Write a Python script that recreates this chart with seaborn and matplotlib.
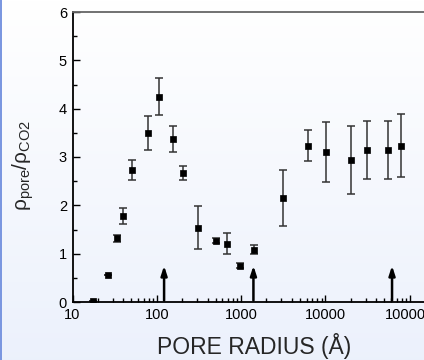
import numpy as np
import pandas as pd
import matplotlib
matplotlib.use("Agg")
import matplotlib.pyplot as plt
from matplotlib.patches import Rectangle
import seaborn as sns

# data
pore_radius = [17.5, 26.4, 34, 39.4, 50.8, 78.7, 106, 155.7, 203, 310, 500, 680,
               962, 1410, 3140, 6270, 10170, 19950, 30900, 55300, 78900]
density_ratio = [0.02, 0.56, 1.32, 1.78, 2.73, 3.49, 4.25, 3.38, 2.67, 1.54, 1.27, 1.21,
                 0.75, 1.08, 2.16, 3.23, 3.11, 2.94, 3.15, 3.15, 3.23]
ratio_err = [0.0, 0.0, 0.07, 0.17, 0.21, 0.35, 0.39, 0.27, 0.14, 0.45, 0.05, 0.22,
             0.05, 0.09, 0.58, 0.32, 0.62, 0.71, 0.60, 0.60, 0.65]
arrow_radius = [122, 1400, 61700]
arrow_from, arrow_to = 0.03, 0.75

df = pd.DataFrame({"radius": pore_radius, "ratio": density_ratio, "err": ratio_err})

sns.set_style("ticks")
plt.rcParams["font.family"] = ["Liberation Sans", "DejaVu Sans"]
plt.rcParams["mathtext.fontset"] = "custom"
plt.rcParams["mathtext.rm"] = "Liberation Sans"
plt.rcParams["mathtext.it"] = "Liberation Sans:italic"

fig = plt.figure(figsize=(4.24, 3.6), dpi=100)

# background: white -> pale blue gradient with a thin blue strip on the left
bg = fig.add_axes([0, 0, 1, 1], zorder=-10)
grad = np.linspace(0, 1, 256).reshape(-1, 1)
top_c = np.array([1.0, 1.0, 1.0])
bot_c = np.array([0.925, 0.945, 0.988])
img = top_c + grad[..., None] * (bot_c - top_c)
bg.imshow(img, aspect="auto", extent=[0, 1, 0, 1], origin="upper")
bg.add_patch(Rectangle((0, 0), 1.5 / 424, 1, color="#7b97e0", lw=0))
bg.set_xlim(0, 1)
bg.set_ylim(0, 1)
bg.axis("off")

ax = fig.add_axes([72.5 / 424, 58 / 360, 362.6 / 424, 290 / 360])
ax.patch.set_alpha(0)

ax.errorbar(df["radius"], df["ratio"], yerr=df["err"], fmt="none",
            ecolor="#333333", elinewidth=1.1, capsize=2.8, capthick=1.1, zorder=2)
sns.scatterplot(data=df, x="radius", y="ratio", marker="s", s=24, color="black",
                edgecolor="black", linewidth=0.5, ax=ax, zorder=3)

for xr in arrow_radius:
    ax.annotate("", xy=(xr, arrow_to), xytext=(xr, arrow_from),
                arrowprops=dict(arrowstyle="-|>,head_width=0.18,head_length=0.55",
                                color="black", lw=1.8, shrinkA=0, shrinkB=0))

ax.set_xscale("log")
ax.set_xlim(10, 2e5)
ax.set_ylim(0, 6)
ax.set_yticks(range(0, 7))
ax.set_yticks(np.arange(0.5, 6, 1.0), minor=True)
ax.set_xticks([10, 100, 1000, 10000, 100000])
ax.set_xticklabels(["10", "100", "1000", "10000", "100000"])

ax.tick_params(which="both", direction="in", colors="black", labelsize=10.5, width=1.0)
ax.tick_params(which="major", length=5, pad=4)
ax.tick_params(which="minor", length=3)

for side in ["left", "bottom"]:
    ax.spines[side].set_color("black")
    ax.spines[side].set_linewidth(1.3)
ax.spines["top"].set_color("#666666")
ax.spines["top"].set_linewidth(1.3)
ax.spines["right"].set_color("#666666")

ax.set_xlabel("PORE RADIUS (Å)", fontsize=16.5, labelpad=8)
ax.set_ylabel(r"$\mathrm{ρ_{pore}/ρ_{CO2}}$", fontsize=15)
ax.yaxis.set_label_coords(-0.10, 0.47)

fig.savefig("out.png", dpi=100)
